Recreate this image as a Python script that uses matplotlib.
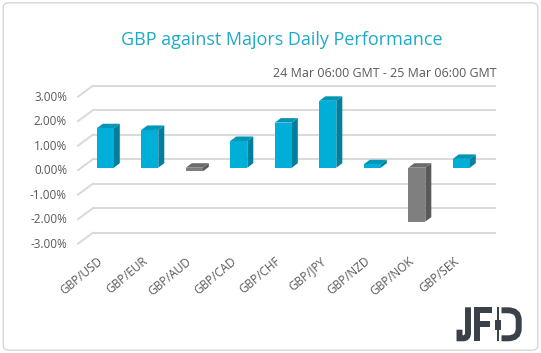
import matplotlib.pyplot as plt
from matplotlib.patches import Polygon, Rectangle, FancyBboxPatch, PathPatch
from matplotlib.path import Path

# data
pairs = ['GBP/USD', 'GBP/EUR', 'GBP/AUD', 'GBP/CAD', 'GBP/CHF',
         'GBP/JPY', 'GBP/NZD', 'GBP/NOK', 'GBP/SEK']
perf = [1.61, 1.54, -0.15, 1.09, 1.84, 2.73, 0.14, -2.20, 0.36]
yticks = [3, 2, 1, 0, -1, -2, -3]

title = 'GBP against Majors Daily Performance'
subtitle = '24 Mar 06:00 GMT - 25 Mar 06:00 GMT'

plt.rcParams['font.family'] = ['Open Sans', 'DejaVu Sans']

W, H = 541, 353
fig = plt.figure(figsize=(W / 100, H / 100), dpi=100)
ax = fig.add_axes([0, 0, 1, 1])
# one category = 44.5 px, 1% = 24.5 px
ax.set_xlim(-2.366, 9.791)
ax.set_ylim(-7.563, 6.845)
ax.axis('off')

# rounded frame
fig.patches.append(FancyBboxPatch((0.006, 0.008), 0.988, 0.984,
                                  boxstyle='round,pad=0,rounding_size=0.012',
                                  transform=fig.transFigure, fc='white',
                                  ec='#d6d6d6', lw=1.0, zorder=-10))

# back wall gridlines + floor slants
for t in yticks:
    ax.plot([-0.613, -0.276], [t - 0.1, t + 0.35], color='#d9d9d9', lw=1.4, zorder=1)
    ax.plot([-0.276, 8.75], [t + 0.35, t + 0.35], color='#d9d9d9', lw=1.4, zorder=1)
    ax.text(-0.86, t - 0.13, '%.2f%%' % t, ha='right', va='center', fontsize=8.5, color='#595959')

# 3d bars
w = 0.382
dx, dy = 0.135, 0.184
for i, v in enumerate(perf):
    if v >= 0:
        front, side, top = '#00afd7', '#00809e', '#0096b8'
    else:
        front, side, top = '#7f7f7f', '#595959', '#6c6c6c'
    x0, x1 = i - w / 2, i + w / 2
    lo, hi = min(v, 0), max(v, 0)
    ax.add_patch(Polygon([(x1, lo), (x1, hi), (x1 + dx, hi + dy), (x1 + dx, lo + dy)],
                         closed=True, fc=side, ec='none', zorder=3))
    ax.add_patch(Polygon([(x0, hi), (x1, hi), (x1 + dx, hi + dy), (x0 + dx, hi + dy)],
                         closed=True, fc=top, ec='none', zorder=3))
    ax.add_patch(Rectangle((x0, lo), w, hi - lo, fc=front, ec='none', zorder=4))
    ax.text(i + 0.0, -3.55, pairs[i], rotation=40, ha='right', va='top',
            fontsize=8.5, color='#595959')

fig.text(0.5207, 0.887, title, ha='center', va='center', fontsize=13, color='#1fa9c9')
fig.text(0.918, 0.793, subtitle, ha='right', va='center', fontsize=9, color='#595959')


# logo (pixel coords from top-left)
def px(x, y):
    return (x / W, 1 - y / H)


logo = '#3a4148'
def box(x0, y0, x1, y1, c=logo):
    fig.patches.append(Rectangle(px(x0, y1), (x1 - x0) / W, (y1 - y0) / H,
                                 transform=fig.transFigure, fc=c, ec='none'))


def stroke(pts, codes, lw=4.3):
    fig.patches.append(PathPatch(Path([px(*p) for p in pts], codes),
                                 transform=fig.transFigure, fc='none', ec=logo,
                                 lw=lw, capstyle='butt', joinstyle='miter'))


# J
stroke([(468, 307.3), (468, 333), (468, 338.3), (463, 338.3), (459.5, 338.3), (459.5, 329.7)],
       [Path.MOVETO, Path.LINETO, Path.CURVE3, Path.CURVE3, Path.LINETO, Path.LINETO])
# F
box(474.3, 307.3, 480.3, 341.3)
box(474.3, 307.3, 491.7, 313.3)
box(474.3, 321.3, 490, 327.3)
# candle
box(497.3, 307.3, 498.8, 341.3)
box(495.2, 319.7, 500.8, 329.7)
# D
stroke([(501.5, 310.3), (508, 310.3), (518.7, 310.3), (518.7, 320),
        (518.7, 328.6), (518.7, 338.3), (508, 338.3), (501.5, 338.3)],
       [Path.MOVETO, Path.LINETO, Path.CURVE3, Path.CURVE3,
        Path.LINETO, Path.CURVE3, Path.CURVE3, Path.LINETO])

fig.savefig('out.png', dpi=100)
